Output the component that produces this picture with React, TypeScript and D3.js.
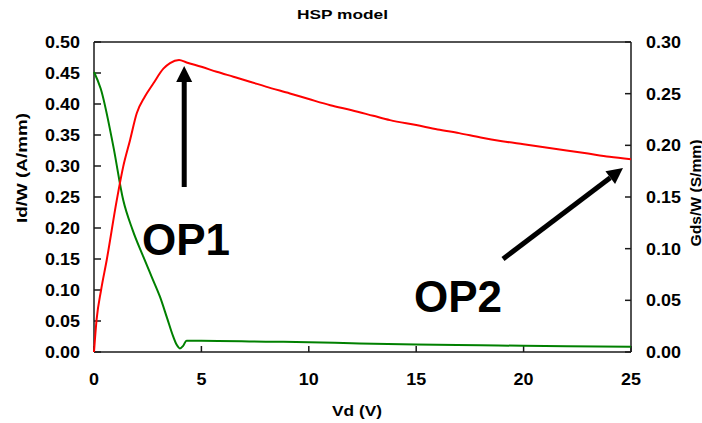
import React, { useEffect, useRef } from "react";
import * as d3 from "d3";

// Drain voltage sweep (V)
const vdId = [0, 0.12, 0.33, 0.59, 1.06, 1.36, 1.68, 1.99, 2.37, 2.76, 3.23, 3.54, 3.96, 4.31, 5.0, 5.71, 6.49, 7.26, 8, 9.12, 10, 11, 12, 13, 13.78, 15, 16, 17, 18, 19, 20, 21.2, 22, 23, 24, 25];
// Drain current per gate width (A/mm)
const idW = [0, 0.052, 0.1, 0.148, 0.245, 0.299, 0.342, 0.385, 0.412, 0.433, 0.457, 0.466, 0.471, 0.467, 0.46, 0.452, 0.444, 0.436, 0.428, 0.417, 0.408, 0.398, 0.39, 0.381, 0.374, 0.366, 0.359, 0.353, 0.346, 0.34, 0.335, 0.329, 0.325, 0.32, 0.315, 0.311];

const vdGds = [0, 0.31, 0.9, 1.36, 1.8, 2.3, 2.7, 3.07, 3.4, 3.69, 3.85, 4.0, 4.15, 4.31, 5, 8, 10, 12, 15, 18, 20, 22, 25];
// Output conductance per gate width (S/mm)
const gdsW = [0.271, 0.255, 0.199, 0.147, 0.118, 0.092, 0.072, 0.0535, 0.033, 0.0148, 0.007, 0.0035, 0.006, 0.011, 0.011, 0.010, 0.0095, 0.0085, 0.0072, 0.0065, 0.006, 0.0056, 0.0051];

const xTicks = [0, 5, 10, 15, 20, 25];
const yLeftTicks = [0, 0.05, 0.1, 0.15, 0.2, 0.25, 0.3, 0.35, 0.4, 0.45, 0.5];
const yRightTicks = [0, 0.05, 0.1, 0.15, 0.2, 0.25, 0.3];

const W = 702;
const H = 423;
const L = 94, R = 631, T = 42, B = 352;
const FONT = "Liberation Sans, Arial, sans-serif";

export default function App() {
  const ref = useRef<SVGSVGElement>(null);

  useEffect(() => {
    const svg = d3.select(ref.current);
    svg.selectAll("*").remove();

    const x = d3.scaleLinear().domain([0, 25]).range([L, R]);
    const yL = d3.scaleLinear().domain([0, 0.5]).range([B, T]);
    const yR = d3.scaleLinear().domain([0, 0.3]).range([B, T]);

    const stretch = (sel: any, k: number) => {
      sel.each(function (this: SVGTextElement) {
        const w = this.getComputedTextLength();
        this.setAttribute("textLength", String(w * k));
        this.setAttribute("lengthAdjust", "spacingAndGlyphs");
      });
    };

    // frame
    const axisColor = "#1a1a1a";
    svg.append("line").attr("x1", L).attr("x2", R).attr("y1", T).attr("y2", T).attr("stroke", axisColor).attr("stroke-width", 1.5);
    svg.append("line").attr("x1", L).attr("x2", R).attr("y1", B).attr("y2", B).attr("stroke", axisColor).attr("stroke-width", 1.5);
    svg.append("line").attr("x1", L).attr("x2", L).attr("y1", T).attr("y2", B).attr("stroke", axisColor).attr("stroke-width", 1.5);
    svg.append("line").attr("x1", R).attr("x2", R).attr("y1", T).attr("y2", B).attr("stroke", axisColor).attr("stroke-width", 1.5);

    // ticks (inward)
    const g = svg.append("g");
    yLeftTicks.forEach((v) => {
      g.append("line").attr("x1", L).attr("x2", L + 7).attr("y1", yL(v)).attr("y2", yL(v)).attr("stroke", axisColor).attr("stroke-width", 1.5);
    });
    yRightTicks.forEach((v) => {
      g.append("line").attr("x1", R - 6).attr("x2", R).attr("y1", yR(v)).attr("y2", yR(v)).attr("stroke", axisColor).attr("stroke-width", 1.5);
    });
    xTicks.forEach((v) => {
      g.append("line").attr("x1", x(v)).attr("x2", x(v)).attr("y1", B).attr("y2", B - 6).attr("stroke", axisColor).attr("stroke-width", 1.5);
    });

    const labelStyle = (sel: any) =>
      sel.attr("font-family", FONT).attr("font-weight", "bold").attr("font-size", 16).attr("fill", "#000");

    const ll = svg.append("g").selectAll("text").data(yLeftTicks).join("text")
      .attr("x", 80).attr("y", (d: number) => yL(d) + 6).attr("text-anchor", "end")
      .text((d: number) => d.toFixed(2));
    labelStyle(ll);
    stretch(ll, 1.12);

    const rl = svg.append("g").selectAll("text").data(yRightTicks).join("text")
      .attr("x", 646).attr("y", (d: number) => yR(d) + 6).attr("text-anchor", "start")
      .text((d: number) => d.toFixed(2));
    labelStyle(rl);
    stretch(rl, 1.12);

    const xl = svg.append("g").selectAll("text").data(xTicks).join("text")
      .attr("x", (d: number) => x(d)).attr("y", 385).attr("text-anchor", "middle")
      .text((d: number) => String(d));
    labelStyle(xl);
    stretch(xl, 1.12);

    // titles
    svg.append("text").attr("x", 297).attr("y", 18.5).attr("font-family", FONT).attr("font-weight", "bold")
      .attr("font-size", 12.5).attr("textLength", 91).attr("lengthAdjust", "spacingAndGlyphs").text("HSP model");
    svg.append("text").attr("x", 332).attr("y", 416).attr("font-family", FONT).attr("font-weight", "bold")
      .attr("font-size", 15).attr("textLength", 50).attr("lengthAdjust", "spacingAndGlyphs").text("Vd (V)");
    svg.append("text").attr("transform", "translate(27,168) rotate(-90)").attr("text-anchor", "middle")
      .attr("font-family", FONT).attr("font-weight", "bold").attr("font-size", 14)
      .attr("textLength", 110).attr("lengthAdjust", "spacingAndGlyphs").text("Id/W (A/mm)");
    svg.append("text").attr("transform", "translate(701,193) rotate(-90)").attr("text-anchor", "middle")
      .attr("font-family", FONT).attr("font-weight", "bold").attr("font-size", 14)
      .attr("textLength", 107).attr("lengthAdjust", "spacingAndGlyphs").text("Gds/W (S/mm)");

    // curves
    const idLine = d3.line<number>().x((_, i) => x(vdId[i])).y((d) => yL(d)).curve(d3.curveMonotoneX);
    const gdsLine = d3.line<number>().x((_, i) => x(vdGds[i])).y((d) => yR(d)).curve(d3.curveMonotoneX);

    svg.append("path").attr("d", gdsLine(gdsW)).attr("fill", "none").attr("stroke", "#008000").attr("stroke-width", 2);
    svg.append("path").attr("d", idLine(idW)).attr("fill", "none").attr("stroke", "#ff0000").attr("stroke-width", 2);

    // annotation arrows
    const arrow = (x0: number, y0: number, x1: number, y1: number) => {
      const dx = x1 - x0, dy = y1 - y0;
      const len = Math.hypot(dx, dy);
      const ux = dx / len, uy = dy / len;
      const hl = 16, hw = 8;
      const bx = x1 - ux * hl, by = y1 - uy * hl;
      svg.append("line").attr("x1", x0).attr("y1", y0).attr("x2", bx).attr("y2", by)
        .attr("stroke", "#000").attr("stroke-width", 5);
      svg.append("polygon")
        .attr("points", `${x1},${y1} ${bx - uy * hw},${by + ux * hw} ${bx + uy * hw},${by - ux * hw}`)
        .attr("fill", "#000");
    };
    arrow(x(4.2), 187, x(4.2), 66);
    arrow(503, 259, 623, 168);

    const opStyle = (sel: any) =>
      sel.attr("font-family", FONT).attr("font-weight", "bold").attr("font-size", 44).attr("fill", "#000");
    opStyle(svg.append("text").attr("x", 142).attr("y", 255).text("OP1"));
    opStyle(svg.append("text").attr("x", 414).attr("y", 311.5).text("OP2"));
  }, []);

  return (
    <svg
      ref={ref}
      width={W}
      height={H}
      style={{ position: "absolute", left: 0, top: 0, background: "#fff" }}
    />
  );
}
